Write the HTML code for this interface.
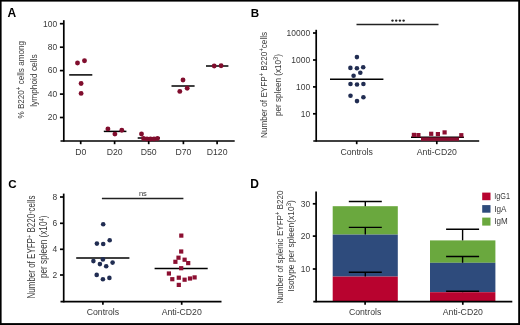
<!DOCTYPE html>
<html><head><meta charset="utf-8"><style>
html,body{margin:0;padding:0;background:#fff;width:520px;height:325px;overflow:hidden}
svg{display:block;font-family:"Liberation Sans", sans-serif}
#w{will-change:transform;width:520px;height:325px}
</style></head><body><div id="w">
<svg width="520" height="325" viewBox="0 0 520 325">
<rect x="0" y="0" width="520" height="325" fill="#fff"/>
<rect x="0" y="0" width="520" height="1.6" fill="#000"/>
<rect x="0" y="0" width="1.6" height="325" fill="#000"/>
<rect x="518.2" y="0" width="1.8" height="325" fill="#000"/>
<rect x="0" y="323.1" width="520" height="1.9" fill="#000"/>
<text x="7.5" y="16.8" font-size="12" text-anchor="start" fill="#000" font-weight="bold">A</text>
<text x="250.8" y="16.8" font-size="11.6" text-anchor="start" fill="#000" font-weight="bold">B</text>
<text x="8.2" y="188.2" font-size="11.6" text-anchor="start" fill="#000" font-weight="bold">C</text>
<text x="250.2" y="188.3" font-size="12" text-anchor="start" fill="#000" font-weight="bold">D</text>
<line x1="63.8" y1="20.2" x2="63.8" y2="141.6" stroke="#000" stroke-width="1.7"/>
<line x1="60.5" y1="141" x2="234.7" y2="141" stroke="#000" stroke-width="1.7"/>
<line x1="59.9" y1="23.7" x2="63.8" y2="23.7" stroke="#000" stroke-width="1.7"/>
<text transform="translate(57.2,26.5) scale(0.93,1)" x="0" y="0" font-size="9.1" text-anchor="end" fill="#383838" font-weight="normal">100</text>
<line x1="59.9" y1="47.2" x2="63.8" y2="47.2" stroke="#000" stroke-width="1.7"/>
<text transform="translate(57.2,50.0) scale(0.93,1)" x="0" y="0" font-size="9.1" text-anchor="end" fill="#383838" font-weight="normal">80</text>
<line x1="59.9" y1="70.6" x2="63.8" y2="70.6" stroke="#000" stroke-width="1.7"/>
<text transform="translate(57.2,73.39999999999999) scale(0.93,1)" x="0" y="0" font-size="9.1" text-anchor="end" fill="#383838" font-weight="normal">60</text>
<line x1="59.9" y1="94.1" x2="63.8" y2="94.1" stroke="#000" stroke-width="1.7"/>
<text transform="translate(57.2,96.89999999999999) scale(0.93,1)" x="0" y="0" font-size="9.1" text-anchor="end" fill="#383838" font-weight="normal">40</text>
<line x1="59.9" y1="117.5" x2="63.8" y2="117.5" stroke="#000" stroke-width="1.7"/>
<text transform="translate(57.2,120.3) scale(0.93,1)" x="0" y="0" font-size="9.1" text-anchor="end" fill="#383838" font-weight="normal">20</text>
<line x1="80.7" y1="141" x2="80.7" y2="144.2" stroke="#000" stroke-width="1.7"/>
<text x="80.7" y="155.1" font-size="8.7" text-anchor="middle" fill="#383838" font-weight="normal">D0</text>
<line x1="114.6" y1="141" x2="114.6" y2="144.2" stroke="#000" stroke-width="1.7"/>
<text x="114.6" y="155.1" font-size="8.7" text-anchor="middle" fill="#383838" font-weight="normal">D20</text>
<line x1="148.7" y1="141" x2="148.7" y2="144.2" stroke="#000" stroke-width="1.7"/>
<text x="148.7" y="155.1" font-size="8.7" text-anchor="middle" fill="#383838" font-weight="normal">D50</text>
<line x1="183.4" y1="141" x2="183.4" y2="144.2" stroke="#000" stroke-width="1.7"/>
<text x="183.4" y="155.1" font-size="8.7" text-anchor="middle" fill="#383838" font-weight="normal">D70</text>
<line x1="217.1" y1="141" x2="217.1" y2="144.2" stroke="#000" stroke-width="1.7"/>
<text x="217.1" y="155.1" font-size="8.7" text-anchor="middle" fill="#383838" font-weight="normal">D120</text>
<text transform="translate(24.4,79.8) rotate(-90)" x="0" y="0" font-size="9.3" text-anchor="middle" fill="#383838" textLength="77.5" lengthAdjust="spacingAndGlyphs">% B220<tspan font-size="7" baseline-shift="3">+</tspan> cells among</text>
<text transform="translate(37.0,80.6) rotate(-90)" x="0" y="0" font-size="9.3" text-anchor="middle" fill="#383838" textLength="52.5" lengthAdjust="spacingAndGlyphs">lymphoid cells</text>
<line x1="69.2" y1="74.9" x2="92.3" y2="74.9" stroke="#000" stroke-width="1.5"/>
<circle cx="77.5" cy="63" r="2.45" fill="#800d2d"/>
<circle cx="84.5" cy="60.8" r="2.45" fill="#800d2d"/>
<circle cx="81.1" cy="83.5" r="2.45" fill="#800d2d"/>
<circle cx="81.1" cy="93.4" r="2.45" fill="#800d2d"/>
<line x1="103.8" y1="131.4" x2="126.4" y2="131.4" stroke="#000" stroke-width="1.5"/>
<circle cx="107.9" cy="128.9" r="2.45" fill="#800d2d"/>
<circle cx="114.9" cy="134.1" r="2.45" fill="#800d2d"/>
<circle cx="121.8" cy="130.2" r="2.45" fill="#800d2d"/>
<line x1="137.7" y1="138" x2="160" y2="138" stroke="#000" stroke-width="1.5"/>
<circle cx="141.5" cy="134" r="2.45" fill="#800d2d"/>
<circle cx="143.5" cy="138.5" r="2.45" fill="#800d2d"/>
<circle cx="147" cy="139" r="2.45" fill="#800d2d"/>
<circle cx="150.5" cy="139" r="2.45" fill="#800d2d"/>
<circle cx="154" cy="139" r="2.45" fill="#800d2d"/>
<circle cx="157.5" cy="138.5" r="2.45" fill="#800d2d"/>
<line x1="171.5" y1="86" x2="194.6" y2="86" stroke="#000" stroke-width="1.5"/>
<circle cx="183" cy="80" r="2.45" fill="#800d2d"/>
<circle cx="179.8" cy="91.4" r="2.45" fill="#800d2d"/>
<circle cx="187.2" cy="88.3" r="2.45" fill="#800d2d"/>
<line x1="206" y1="66" x2="228.4" y2="66" stroke="#000" stroke-width="1.5"/>
<circle cx="214.2" cy="66" r="2.45" fill="#800d2d"/>
<circle cx="221.1" cy="65.8" r="2.45" fill="#800d2d"/>
<line x1="316.2" y1="29.8" x2="316.2" y2="141.6" stroke="#000" stroke-width="1.7"/>
<line x1="313.3" y1="141" x2="479.2" y2="141" stroke="#000" stroke-width="1.7"/>
<line x1="313.0" y1="33" x2="316.2" y2="33" stroke="#000" stroke-width="1.7"/>
<text transform="translate(310.1,35.8) scale(0.93,1)" x="0" y="0" font-size="9.1" text-anchor="end" fill="#383838" font-weight="normal">10000</text>
<line x1="313.0" y1="60" x2="316.2" y2="60" stroke="#000" stroke-width="1.7"/>
<text transform="translate(310.1,62.8) scale(0.93,1)" x="0" y="0" font-size="9.1" text-anchor="end" fill="#383838" font-weight="normal">1000</text>
<line x1="313.0" y1="86.9" x2="316.2" y2="86.9" stroke="#000" stroke-width="1.7"/>
<text transform="translate(310.1,89.7) scale(0.93,1)" x="0" y="0" font-size="9.1" text-anchor="end" fill="#383838" font-weight="normal">100</text>
<line x1="313.0" y1="113.8" x2="316.2" y2="113.8" stroke="#000" stroke-width="1.7"/>
<text transform="translate(310.1,116.6) scale(0.93,1)" x="0" y="0" font-size="9.1" text-anchor="end" fill="#383838" font-weight="normal">10</text>
<line x1="356.7" y1="141" x2="356.7" y2="144.2" stroke="#000" stroke-width="1.7"/>
<text x="356.7" y="154.9" font-size="8.7" text-anchor="middle" fill="#383838" font-weight="normal">Controls</text>
<line x1="436.8" y1="141" x2="436.8" y2="144.2" stroke="#000" stroke-width="1.7"/>
<text x="436.8" y="154.9" font-size="8.7" text-anchor="middle" fill="#383838" font-weight="normal">Anti-CD20</text>
<line x1="356.5" y1="24.6" x2="438.5" y2="24.6" stroke="#222" stroke-width="1.5"/>
<circle cx="392.5" cy="20.6" r="1.2" fill="#222"/>
<circle cx="396.2" cy="20.6" r="1.2" fill="#222"/>
<circle cx="399.9" cy="20.6" r="1.2" fill="#222"/>
<circle cx="403.6" cy="20.6" r="1.2" fill="#222"/>
<text transform="translate(267.4,84.9) rotate(-90)" x="0" y="0" font-size="9.8" text-anchor="middle" fill="#383838" textLength="106" lengthAdjust="spacingAndGlyphs">Number of EYFP<tspan font-size="7" baseline-shift="3">+</tspan> B220<tspan font-size="7" baseline-shift="3">+</tspan>cells</text>
<text transform="translate(280.5,85.0) rotate(-90)" x="0" y="0" font-size="9.8" text-anchor="middle" fill="#383838" textLength="62" lengthAdjust="spacingAndGlyphs">per spleen (x10<tspan font-size="7" baseline-shift="3">3</tspan>)</text>
<line x1="330" y1="79.3" x2="383.4" y2="79.3" stroke="#000" stroke-width="1.5"/>
<circle cx="356.9" cy="57.1" r="2.3" fill="#212d52"/>
<circle cx="350.4" cy="67.9" r="2.3" fill="#212d52"/>
<circle cx="356.9" cy="68.2" r="2.3" fill="#212d52"/>
<circle cx="363.2" cy="67.2" r="2.3" fill="#212d52"/>
<circle cx="360.3" cy="72.8" r="2.3" fill="#212d52"/>
<circle cx="353.6" cy="75.8" r="2.3" fill="#212d52"/>
<circle cx="350.5" cy="84" r="2.3" fill="#212d52"/>
<circle cx="357" cy="84.5" r="2.3" fill="#212d52"/>
<circle cx="363.4" cy="84" r="2.3" fill="#212d52"/>
<circle cx="350.5" cy="95.7" r="2.3" fill="#212d52"/>
<circle cx="357" cy="101.1" r="2.3" fill="#212d52"/>
<circle cx="363.4" cy="97.2" r="2.3" fill="#212d52"/>
<line x1="411.0" y1="137.3" x2="463.9" y2="137.3" stroke="#000" stroke-width="1.5"/>
<rect x="421" y="137.4" width="38" height="3.4" fill="#8c0f31"/>
<rect x="411.79999999999995" y="132.8" width="4.2" height="4.2" fill="#8c0f31"/>
<rect x="416.29999999999995" y="133.0" width="4.2" height="4.2" fill="#8c0f31"/>
<rect x="429.09999999999997" y="131.70000000000002" width="4.2" height="4.2" fill="#8c0f31"/>
<rect x="435.79999999999995" y="132.0" width="4.2" height="4.2" fill="#8c0f31"/>
<rect x="442.5" y="130.3" width="4.2" height="4.2" fill="#8c0f31"/>
<rect x="459.2" y="133.1" width="4.2" height="4.2" fill="#8c0f31"/>
<line x1="63.7" y1="193.6" x2="63.7" y2="302.4" stroke="#000" stroke-width="1.7"/>
<line x1="60.5" y1="301.6" x2="221.5" y2="301.6" stroke="#000" stroke-width="1.7"/>
<line x1="60.0" y1="197" x2="63.7" y2="197" stroke="#000" stroke-width="1.7"/>
<text transform="translate(57.2,199.8) scale(0.93,1)" x="0" y="0" font-size="9.1" text-anchor="end" fill="#383838" font-weight="normal">8</text>
<line x1="60.0" y1="223.3" x2="63.7" y2="223.3" stroke="#000" stroke-width="1.7"/>
<text transform="translate(57.2,226.10000000000002) scale(0.93,1)" x="0" y="0" font-size="9.1" text-anchor="end" fill="#383838" font-weight="normal">6</text>
<line x1="60.0" y1="249.3" x2="63.7" y2="249.3" stroke="#000" stroke-width="1.7"/>
<text transform="translate(57.2,252.10000000000002) scale(0.93,1)" x="0" y="0" font-size="9.1" text-anchor="end" fill="#383838" font-weight="normal">4</text>
<line x1="60.0" y1="275" x2="63.7" y2="275" stroke="#000" stroke-width="1.7"/>
<text transform="translate(57.2,277.8) scale(0.93,1)" x="0" y="0" font-size="9.1" text-anchor="end" fill="#383838" font-weight="normal">2</text>
<line x1="102.9" y1="301.6" x2="102.9" y2="304.8" stroke="#000" stroke-width="1.7"/>
<text x="102.9" y="315.4" font-size="8.7" text-anchor="middle" fill="#383838" font-weight="normal">Controls</text>
<line x1="181.7" y1="301.6" x2="181.7" y2="304.8" stroke="#000" stroke-width="1.7"/>
<text x="181.7" y="315.4" font-size="8.7" text-anchor="middle" fill="#383838" font-weight="normal">Anti-CD20</text>
<line x1="101.9" y1="198.5" x2="183.4" y2="198.5" stroke="#222" stroke-width="1.5"/>
<text x="142.9" y="195.5" font-size="7.5" text-anchor="middle" fill="#383838" font-weight="normal">ns</text>
<text transform="translate(34.9,247) rotate(-90)" x="0" y="0" font-size="10" text-anchor="middle" fill="#383838" textLength="103" lengthAdjust="spacingAndGlyphs">Number of EYFP<tspan font-size="7" baseline-shift="3">+</tspan> B220<tspan font-size="5" baseline-shift="3">+</tspan>cells</text>
<text transform="translate(46.5,246.8) rotate(-90)" x="0" y="0" font-size="10" text-anchor="middle" fill="#383838" textLength="62.5" lengthAdjust="spacingAndGlyphs">per spleen (x10<tspan font-size="7" baseline-shift="3">4</tspan>)</text>
<line x1="76.2" y1="257.9" x2="129.4" y2="257.9" stroke="#000" stroke-width="1.5"/>
<circle cx="103.2" cy="224.2" r="2.3" fill="#212d52"/>
<circle cx="96.9" cy="243.6" r="2.3" fill="#212d52"/>
<circle cx="103.2" cy="244" r="2.3" fill="#212d52"/>
<circle cx="109.7" cy="240.3" r="2.3" fill="#212d52"/>
<circle cx="93.4" cy="261.1" r="2.3" fill="#212d52"/>
<circle cx="102.9" cy="259.4" r="2.3" fill="#212d52"/>
<circle cx="99.9" cy="264.1" r="2.3" fill="#212d52"/>
<circle cx="106.2" cy="266.3" r="2.3" fill="#212d52"/>
<circle cx="112.6" cy="262.6" r="2.3" fill="#212d52"/>
<circle cx="96.7" cy="274.9" r="2.3" fill="#212d52"/>
<circle cx="102.9" cy="279.2" r="2.3" fill="#212d52"/>
<circle cx="109.4" cy="277.9" r="2.3" fill="#212d52"/>
<line x1="154.6" y1="268.5" x2="207.7" y2="268.5" stroke="#000" stroke-width="1.5"/>
<rect x="179.20000000000002" y="233.5" width="4.2" height="4.2" fill="#8c0f31"/>
<rect x="179.1" y="249.4" width="4.2" height="4.2" fill="#8c0f31"/>
<rect x="176.4" y="255.6" width="4.2" height="4.2" fill="#8c0f31"/>
<rect x="173.3" y="259.7" width="4.2" height="4.2" fill="#8c0f31"/>
<rect x="182.5" y="257.59999999999997" width="4.2" height="4.2" fill="#8c0f31"/>
<rect x="186.1" y="261.0" width="4.2" height="4.2" fill="#8c0f31"/>
<rect x="179.1" y="266.09999999999997" width="4.2" height="4.2" fill="#8c0f31"/>
<rect x="166.8" y="271.4" width="4.2" height="4.2" fill="#8c0f31"/>
<rect x="170.20000000000002" y="277.09999999999997" width="4.2" height="4.2" fill="#8c0f31"/>
<rect x="176.70000000000002" y="275.59999999999997" width="4.2" height="4.2" fill="#8c0f31"/>
<rect x="182.5" y="277.59999999999997" width="4.2" height="4.2" fill="#8c0f31"/>
<rect x="187.9" y="276.4" width="4.2" height="4.2" fill="#8c0f31"/>
<rect x="192.5" y="275.29999999999995" width="4.2" height="4.2" fill="#8c0f31"/>
<rect x="176.70000000000002" y="282.79999999999995" width="4.2" height="4.2" fill="#8c0f31"/>
<rect x="332.7" y="206.2" width="65.1" height="28.4" fill="#6aa83e"/>
<rect x="332.7" y="234.6" width="65.1" height="42" fill="#2e4b7c"/>
<rect x="332.7" y="276.6" width="65.1" height="25" fill="#b8032f"/>
<rect x="430" y="240.4" width="65.4" height="22.4" fill="#6aa83e"/>
<rect x="430" y="262.8" width="65.4" height="29.4" fill="#2e4b7c"/>
<rect x="430" y="292.2" width="65.4" height="9.4" fill="#b8032f"/>
<line x1="316.1" y1="191.6" x2="316.1" y2="302.2" stroke="#000" stroke-width="1.7"/>
<line x1="313.3" y1="301.6" x2="512.3" y2="301.6" stroke="#000" stroke-width="1.7"/>
<line x1="312.8" y1="203.8" x2="316.1" y2="203.8" stroke="#000" stroke-width="1.7"/>
<text transform="translate(310.2,206.60000000000002) scale(0.93,1)" x="0" y="0" font-size="9.1" text-anchor="end" fill="#383838" font-weight="normal">30</text>
<line x1="312.8" y1="236.1" x2="316.1" y2="236.1" stroke="#000" stroke-width="1.7"/>
<text transform="translate(310.2,238.9) scale(0.93,1)" x="0" y="0" font-size="9.1" text-anchor="end" fill="#383838" font-weight="normal">20</text>
<line x1="312.8" y1="269" x2="316.1" y2="269" stroke="#000" stroke-width="1.7"/>
<text transform="translate(310.2,271.8) scale(0.93,1)" x="0" y="0" font-size="9.1" text-anchor="end" fill="#383838" font-weight="normal">10</text>
<line x1="365.1" y1="301.6" x2="365.1" y2="304.8" stroke="#000" stroke-width="1.7"/>
<text x="365.1" y="315.4" font-size="8.7" text-anchor="middle" fill="#383838" font-weight="normal">Controls</text>
<line x1="462.8" y1="301.6" x2="462.8" y2="304.8" stroke="#000" stroke-width="1.7"/>
<text x="462.8" y="315.4" font-size="8.7" text-anchor="middle" fill="#383838" font-weight="normal">Anti-CD20</text>
<line x1="348.8" y1="201.5" x2="381.8" y2="201.5" stroke="#000" stroke-width="1.4"/>
<line x1="365.3" y1="201.5" x2="365.3" y2="206.2" stroke="#000" stroke-width="1.4"/>
<line x1="348.8" y1="227.4" x2="381.8" y2="227.4" stroke="#000" stroke-width="1.4"/>
<line x1="365.3" y1="227.4" x2="365.3" y2="234.6" stroke="#000" stroke-width="1.4"/>
<line x1="348.8" y1="272.3" x2="381.8" y2="272.3" stroke="#000" stroke-width="1.4"/>
<line x1="365.3" y1="272.3" x2="365.3" y2="276.6" stroke="#000" stroke-width="1.4"/>
<line x1="446.1" y1="229.2" x2="479.1" y2="229.2" stroke="#000" stroke-width="1.4"/>
<line x1="462.6" y1="229.2" x2="462.6" y2="240.4" stroke="#000" stroke-width="1.4"/>
<line x1="446.1" y1="256.5" x2="479.1" y2="256.5" stroke="#000" stroke-width="1.4"/>
<line x1="462.6" y1="256.5" x2="462.6" y2="262.8" stroke="#000" stroke-width="1.4"/>
<line x1="446.1" y1="291.3" x2="479.1" y2="291.3" stroke="#000" stroke-width="1.4"/>
<line x1="462.6" y1="291.3" x2="462.6" y2="292.2" stroke="#000" stroke-width="1.4"/>
<text transform="translate(282.6,247) rotate(-90)" x="0" y="0" font-size="9.8" text-anchor="middle" fill="#383838" textLength="113" lengthAdjust="spacingAndGlyphs">Number of splenic EYFP<tspan font-size="7" baseline-shift="3">+</tspan> B220</text>
<text transform="translate(294.2,245.9) rotate(-90)" x="0" y="0" font-size="9.8" text-anchor="middle" fill="#383838" textLength="91.5" lengthAdjust="spacingAndGlyphs">Isotype per spleen(x10<tspan font-size="7" baseline-shift="3">3</tspan>)</text>
<rect x="482.2" y="192.6" width="8.3" height="7.6" fill="#b8032f"/>
<rect x="482.2" y="205.1" width="8.3" height="7.6" fill="#2e4b7c"/>
<rect x="482.2" y="217.6" width="8.3" height="8" fill="#6aa83e"/>
<text x="494.3" y="199.0" font-size="8.3" text-anchor="start" fill="#383838" font-weight="normal" textLength="15.8" lengthAdjust="spacingAndGlyphs">IgG1</text>
<text x="494.3" y="211.7" font-size="8.3" text-anchor="start" fill="#383838" font-weight="normal" textLength="12.2" lengthAdjust="spacingAndGlyphs">IgA</text>
<text x="494.3" y="224.0" font-size="8.3" text-anchor="start" fill="#383838" font-weight="normal" textLength="13.4" lengthAdjust="spacingAndGlyphs">IgM</text>
</svg></div>
</body></html>
